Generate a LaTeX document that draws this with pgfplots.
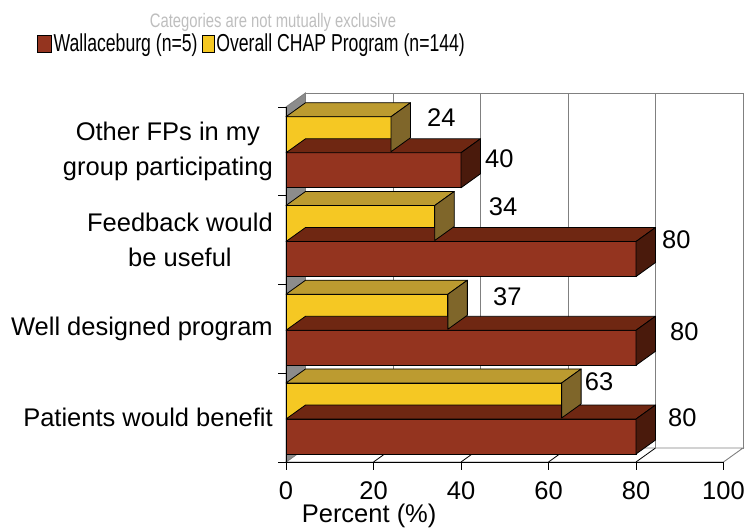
\documentclass[border=0pt]{standalone}
\usepackage{pgfplots}
\pgfplotsset{compat=1.18}
\usepackage{pgfplotstable}
\usepackage{fontspec}
\setmainfont{Liberation Sans}
\newfontfamily\legfont[FakeStretch=0.72]{Liberation Sans}
\newfontfamily\subfont[FakeStretch=0.76]{Liberation Sans}
\usetikzlibrary{calc}

\definecolor{brownF}{RGB}{148,52,31}
\definecolor{brownT}{RGB}{111,39,18}
\definecolor{brownS}{RGB}{74,26,12}
\definecolor{yellowF}{RGB}{245,200,35}
\definecolor{yellowT}{RGB}{188,155,48}
\definecolor{yellowS}{RGB}{127,102,42}
\definecolor{wallgray}{RGB}{140,140,140}
\definecolor{linegray}{RGB}{128,128,128}
\definecolor{subgray}{RGB}{190,190,190}

\newcommand{\bigfont}{\fontsize{25.5}{35}\selectfont}

% c = category (0 = bottom), val = percent, lx/ly = label offset (pt) from bar end
\pgfplotstableread{
c val lx ly
0 80 32 18.5
1 80 34 15.8
2 80 26 19
3 40 24 12
}\wallaceburg
\pgfplotstableread{
c val lx ly
0 63 23 18.5
1 37 45 14.7
2 34 54 16
3 24 36 16.5
}\overall

\pgfplotsset{
  face3d/.style n args={2}{%
    only marks, mark=*, mark size=0pt,
    mark options={draw=none, fill=none},
    scatter, point meta=x,
    visualization depends on={rawx \as \val},
    visualization depends on={\thisrow{lx} \as \lx},
    visualization depends on={\thisrow{ly} \as \ly},
    scatter/@pre marker code/.code={%
      \pgfmathsetlengthmacro\barlen{\val*4.375pt}%
      \filldraw[fill=#1, draw=black, opacity=1, line width=0.8pt, line join=round]
        (0pt,17.5pt) -- (-\barlen,17.5pt) -- ++(19.5pt,14pt) -- (19.5pt,31.5pt) -- cycle;
      \filldraw[fill=#2, draw=black, opacity=1, line width=0.8pt, line join=round]
        (0pt,17.5pt) -- (19.5pt,31.5pt) -- (19.5pt,-3.5pt) -- (0pt,-17.5pt) -- cycle;
      \node[anchor=west, inner sep=0pt, font=\bigfont, text=black, opacity=1, draw=none, fill=none]
        at (\lx pt,\ly pt) {\pgfmathprintnumber{\val}};
    },
    scatter/@post marker code/.code={},
  },
}

\begin{document}
\begin{tikzpicture}
\begin{axis}[
  at={(286pt,67pt)}, anchor=south west,
  x=4.375pt, y=88.75pt,
  xmin=0, xmax=100, ymin=-0.5, ymax=3.5,
  clip=false, set layers,
  axis x line*=bottom, axis y line*=left,
  axis line style={black, line width=0.9pt},
  tick align=outside,
  tick style={black, line width=0.9pt},
  major tick length=8pt,
  xtick={0,20,40,60,80,100},
  ytick={-0.5,0.5,1.5,2.5,3.5},
  yticklabels={},
  extra y ticks={0,1,2,3},
  extra y tick labels={Patients would benefit, Well designed program, {Feedback would\\be useful}, {Other FPs in my\\group participating}},
  extra y tick style={major tick length=0pt, tick style={draw=none},
     yticklabel style={align=center, anchor=east, inner sep=0pt, xshift=-13pt, font=\bigfont}},
  /pgf/number format/assume math mode=true,
  xticklabel style={font=\bigfont, inner sep=0pt, yshift=-11pt},
  xlabel={Percent (\%)},
  xlabel style={at={(axis description cs:0.19,0)}, anchor=base, yshift=-61pt, font=\bigfont, inner sep=0pt},
  legend style={at={(axis description cs:-0.078,1.179)}, anchor=center, draw=none, fill=none,
     legend columns=2, font=\legfont\fontsize{24.5}{28}\selectfont,
     nodes={inner sep=2pt},
     /tikz/every even column/.append style={column sep=2pt}},
]
\pgfonlayer{axis background}
  % back wall
  \filldraw[fill=white, draw=linegray, line width=0.9pt]
    ($(axis cs:0,-0.5)+(19.5pt,14pt)$) rectangle ($(axis cs:100,3.5)+(19.5pt,14pt)$);
  \pgfplotsinvokeforeach{20,40,60,80}{
    \draw[linegray, line width=0.9pt] ($(axis cs:#1,-0.5)+(19.5pt,14pt)$) -- ($(axis cs:#1,3.5)+(19.5pt,14pt)$);
  }
  % floor
  \filldraw[fill=white, draw=linegray, line width=0.9pt]
    (axis cs:0,-0.5) -- (axis cs:100,-0.5) -- ++(19.5pt,14pt) -- ($(axis cs:0,-0.5)+(19.5pt,14pt)$) -- cycle;
  \pgfplotsinvokeforeach{20,40,60,80}{
    \draw[black, line width=0.8pt] (axis cs:#1,-0.5) -- ++(19.5pt,14pt);
  }
  % left side wall
  \filldraw[fill=wallgray, draw=linegray, line width=0.9pt]
    (axis cs:0,-0.5) -- (axis cs:0,3.5) -- ++(19.5pt,14pt) -- ($(axis cs:0,-0.5)+(19.5pt,14pt)$) -- cycle;
\endpgfonlayer

\addplot[xbar, bar width=35pt, bar shift=0pt, fill=brownF, draw=black, line width=0.8pt,
  legend image code/.code={\draw[fill=brownF, draw=black, line width=0.8pt] (0pt,-8.5pt) rectangle (14pt,8.5pt);}]
  table[x=val, y expr=\thisrow{c}-0.213] {\wallaceburg};
\addlegendentry{Wallaceburg (n=5)}
\addplot[face3d={brownT}{brownS}, forget plot]
  table[x=val, y expr=\thisrow{c}-0.213] {\wallaceburg};

\addplot[xbar, bar width=35pt, bar shift=0pt, fill=yellowF, draw=black, line width=0.8pt,
  legend image code/.code={\draw[fill=yellowF, draw=black, line width=0.8pt] (0pt,-8.5pt) rectangle (12pt,8.5pt);}]
  table[x=val, y expr=\thisrow{c}+0.193] {\overall};
\addlegendentry{Overall CHAP Program (n=144)}
\addplot[face3d={yellowT}{yellowS}, forget plot]
  table[x=val, y expr=\thisrow{c}+0.193] {\overall};

\node[font=\subfont\fontsize{19.5}{22}\selectfont, text=subgray] at (axis description cs:-0.0297,1.2394)
  {Categories are not mutually exclusive};
\end{axis}
\pgfresetboundingbox
\path[use as bounding box] (0pt,0pt) rectangle (746pt,529pt);
\end{tikzpicture}
\end{document}
